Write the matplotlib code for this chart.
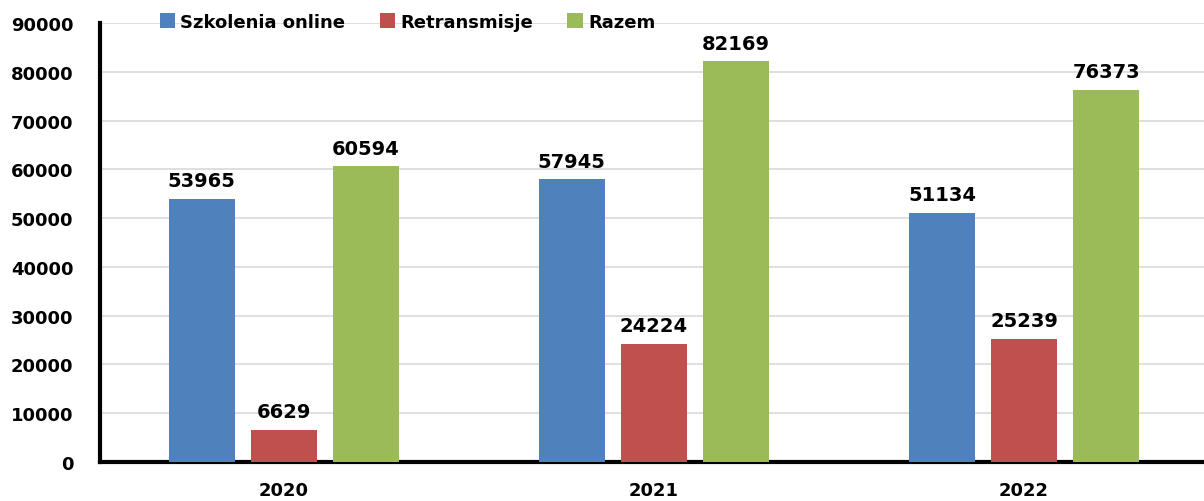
import numpy as np
import matplotlib.pyplot as plt

years = ['2020', '2021', '2022']
szkolenia = [53965, 57945, 51134]
retransmisje = [6629, 24224, 25239]
razem = [60594, 82169, 76373]

series = [('Szkolenia online', szkolenia, '#4f81bd'),
          ('Retransmisje', retransmisje, '#c0504d'),
          ('Razem', razem, '#9bbb59')]

plt.rcParams['font.family'] = ['DejaVu Sans']
plt.rcParams['font.weight'] = 'bold'

fig = plt.figure(figsize=(12.04, 5.02), dpi=100)
ax = fig.add_axes([0.083, 0.078, 0.917, 0.874])

x = np.arange(len(years))
width = 0.178
step = 0.222
for i, (name, vals, col) in enumerate(series):
    pos = x + (i - 1) * step
    bars = ax.bar(pos, vals, width=width, color=col, label=name, zorder=3)
    for b, v in zip(bars, vals):
        ax.annotate(str(v), (b.get_x() + b.get_width() / 2, v),
                    xytext=(0, 6), textcoords='offset points',
                    ha='center', va='bottom', fontsize=14, fontweight='bold')

ax.set_xlim(-0.497, 2.486)
ax.set_ylim(0, 90000)
ax.set_yticks(np.arange(0, 90001, 10000))
ax.set_xticks(x)
ax.set_xticklabels(years)
ax.tick_params(axis='both', length=0, labelsize=13)
ax.tick_params(axis='x', pad=14)
ax.tick_params(axis='y', pad=19)
ax.yaxis.grid(color='#d9d9d9', linewidth=1.2, zorder=0)
ax.set_axisbelow(True)

for s in ['top', 'right']:
    ax.spines[s].set_visible(False)
for s in ['left', 'bottom']:
    ax.spines[s].set_linewidth(3)
    ax.spines[s].set_color('black')

fig.legend(loc='upper left', bbox_to_anchor=(0.122, 0.998), ncol=3, frameon=False,
           handlelength=0.85, handleheight=0.85, handletextpad=0.3, columnspacing=1.9,
           prop={'size': 13, 'weight': 'bold'}, borderaxespad=0.3)

plt.savefig('out.png', dpi=100)
